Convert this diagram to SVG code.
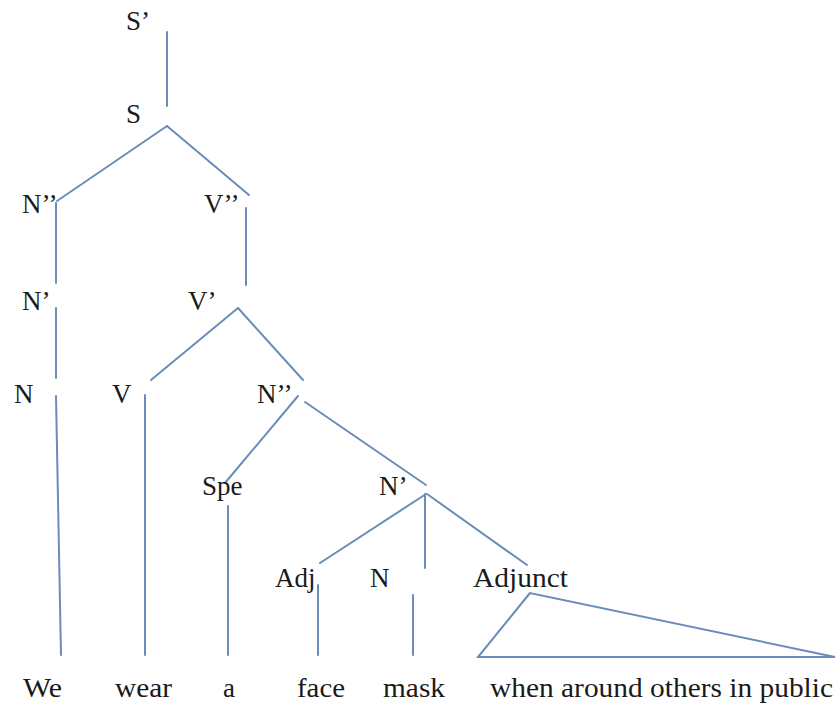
<svg xmlns="http://www.w3.org/2000/svg" width="838" height="706" viewBox="0 0 838 706">
<style>
text{font-family:'Liberation Serif','Times New Roman','DejaVu Serif',serif;font-size:27px;fill:#1a1a1a}
.e{stroke:#6a8cba;stroke-width:2;fill:none;stroke-linecap:round}
</style>
<rect width="838" height="706" fill="#ffffff"/>
<g id="connectors">
<line class="e" x1="167" y1="32" x2="167" y2="106"/>
<line class="e" x1="167" y1="126" x2="57" y2="201"/>
<line class="e" x1="167" y1="126" x2="249" y2="195"/>
<line class="e" x1="56" y1="203" x2="56" y2="283"/>
<line class="e" x1="56" y1="308" x2="56" y2="378"/>
<line class="e" x1="56" y1="396" x2="61" y2="655"/>
<line class="e" x1="246" y1="208" x2="246" y2="285"/>
<line class="e" x1="238" y1="308" x2="151" y2="380"/>
<line class="e" x1="238" y1="308" x2="303" y2="380"/>
<line class="e" x1="145" y1="395" x2="145" y2="655"/>
<line class="e" x1="298" y1="396" x2="225" y2="483"/>
<line class="e" x1="305" y1="402" x2="426" y2="485"/>
<line class="e" x1="228" y1="506" x2="228" y2="655"/>
<line class="e" x1="426" y1="494" x2="320" y2="563"/>
<line class="e" x1="425" y1="494" x2="425" y2="568"/>
<line class="e" x1="427" y1="494" x2="527" y2="565"/>
<line class="e" x1="318" y1="585" x2="318" y2="655"/>
<line class="e" x1="413" y1="595" x2="413" y2="655"/>
<polygon class="e" points="530,593 478,657 835,657"/>
</g>
<g id="n-Sbar"><text x="126" y="30">S’</text></g>
<g id="n-S"><text x="126" y="123">S</text></g>
<g id="n-N2"><text x="22" y="213">N’’</text></g>
<g id="n-V2"><text x="204" y="213">V’’</text></g>
<g id="n-N1"><text x="22" y="310">N’</text></g>
<g id="n-V1"><text x="188" y="310">V’</text></g>
<g id="n-N"><text x="14" y="403">N</text></g>
<g id="n-V"><text x="112" y="403">V</text></g>
<g id="n-N2b"><text x="257" y="403">N’’</text></g>
<g id="n-Spe"><text x="202" y="495">Spe</text></g>
<g id="n-N1b"><text x="379" y="495">N’</text></g>
<g id="n-Adj"><text x="275" y="587">Adj</text></g>
<g id="n-Nb"><text x="370" y="587">N</text></g>
<g id="n-Adjunct"><text x="473" y="587" textLength="95" lengthAdjust="spacingAndGlyphs">Adjunct</text></g>
<g id="w-We"><text x="23" y="697" textLength="39" lengthAdjust="spacingAndGlyphs">We</text></g>
<g id="w-wear"><text x="115" y="697" textLength="57" lengthAdjust="spacingAndGlyphs">wear</text></g>
<g id="w-a"><text x="223" y="697">a</text></g>
<g id="w-face"><text x="297" y="697" textLength="48" lengthAdjust="spacingAndGlyphs">face</text></g>
<g id="w-mask"><text x="383" y="697" textLength="62" lengthAdjust="spacingAndGlyphs">mask</text></g>
<g id="w-phrase"><text x="490" y="697" textLength="343" lengthAdjust="spacingAndGlyphs">when around others in public</text></g>
</svg>
